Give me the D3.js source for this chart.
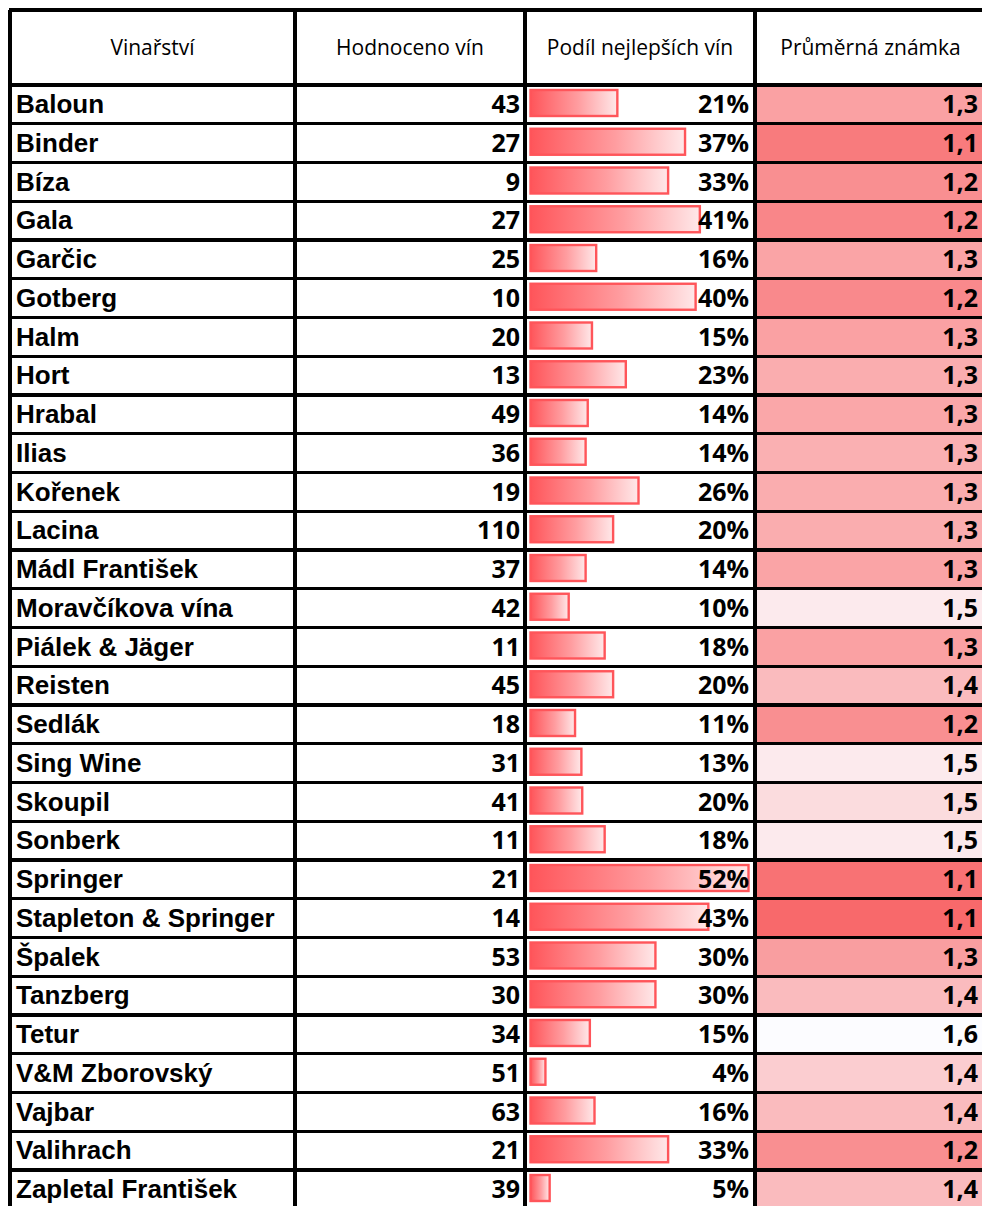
<!DOCTYPE html>
<meta charset="utf-8">
<style>
body {
  margin: 0;
  background: #fff;
}
.head {
  font-family: "Open Sans";
  font-size: 21px;
  fill: #000;
}
.name {
  font-family: "Liberation Sans", Arial;
  font-weight: bold;
  font-size: 26px;
  fill: #000;
}
.num {
  font-family: "Open Sans";
  font-weight: bold;
  font-size: 25px;
  fill: #000;
  text-anchor: end;
}
.grid {
  stroke: #000;
  stroke-width: 3.4;
  shape-rendering: crispEdges;
}
</style>
<body>
<script src="https://cdn.jsdelivr.net/npm/d3@7"></script>
<script>

var headers = ["Vinařství", "Hodnoceno vín", "Podíl nejlepších vín", "Průměrná známka"];

var wineries = ["Baloun", "Binder", "Bíza", "Gala", "Garčic", "Gotberg", "Halm", "Hort",
  "Hrabal", "Ilias", "Kořenek", "Lacina", "Mádl František", "Moravčíkova vína",
  "Piálek & Jäger", "Reisten", "Sedlák", "Sing Wine", "Skoupil", "Sonberk", "Springer",
  "Stapleton & Springer", "Špalek", "Tanzberg", "Tetur", "V&M Zborovský", "Vajbar",
  "Valihrach", "Zapletal František"];

var rated = [43, 27, 9, 27, 25, 10, 20, 13, 49, 36, 19, 110, 37, 42, 11, 45, 18, 31, 41, 11,
  21, 14, 53, 30, 34, 51, 63, 21, 39];

// share of best wines, as printed
var shareShown = [21, 37, 33, 41, 16, 40, 15, 23, 14, 14, 26, 20, 14, 10, 18, 20, 11, 13, 20, 18,
  52, 43, 30, 30, 15, 4, 16, 33, 5];

// share of best wines, as drawn by the bars
var shareBar = [21, 37, 33, 40.5, 16, 39.5, 15, 23, 14, 13.5, 26, 20, 13.5, 9.5, 18, 20, 11, 12.5, 12.7, 18,
  52, 42.5, 30, 30, 14.5, 4, 15.6, 33, 5];

// average grade (estimated from cell shading, printed with one decimal)
var grade = [1.27, 1.14, 1.21, 1.18, 1.28, 1.19, 1.27, 1.31, 1.29, 1.32, 1.31, 1.31, 1.28, 1.52,
  1.27, 1.36, 1.21, 1.52, 1.47, 1.52, 1.11, 1.08, 1.26, 1.36, 1.58, 1.42, 1.36, 1.21, 1.36];

var width = 982,
    height = 1206;

var colX = [10, 295, 525, 755, 990];
var headTop = 10,
    headBottom = 85,
    rowH = 38.75;

var svg = d3.select("body").append("svg")
    .attr("width", width)
    .attr("height", height);

var defs = svg.append("defs");
var grad = defs.append("linearGradient")
    .attr("id", "barGrad");
grad.append("stop").attr("offset", "0%").attr("stop-color", "#FF555A");
grad.append("stop").attr("offset", "55%").attr("stop-color", "#FF9DA0");
grad.append("stop").attr("offset", "100%").attr("stop-color", "#FFE8E9");

var y = d3.scaleBand()
    .domain(d3.range(wineries.length))
    .range([headBottom, headBottom + wineries.length * rowH])
    .padding(0);

var xBar = d3.scaleLinear()
    .domain([0, 52])
    .range([0, 220]);

var color = d3.scaleLinear()
    .domain([d3.min(grade), d3.max(grade)])
    .range(["#F8696B", "#FCFCFF"]);

var fmtGrade = function(v) { return d3.format(".1f")(v).replace(".", ","); };

var rows = svg.selectAll(".row")
    .data(wineries)
  .enter().append("g")
    .attr("class", "row")
    .attr("transform", function(d, i) { return "translate(0," + y(i) + ")"; });

// colour scale cells
rows.append("rect")
    .attr("x", colX[3])
    .attr("y", 0)
    .attr("width", colX[4] - colX[3])
    .attr("height", y.bandwidth())
    .attr("fill", function(d, i) { return color(grade[i]); });

// data bars
rows.append("rect")
    .attr("x", colX[2] + 5.5)
    .attr("y", 5)
    .attr("width", function(d, i) { return Math.max(1, xBar(shareBar[i]) - 2); })
    .attr("height", 26)
    .attr("fill", "url(#barGrad)")
    .attr("stroke", "#FF555A")
    .attr("stroke-width", 2.4);

rows.append("text")
    .attr("class", "name")
    .attr("x", colX[0] + 6)
    .attr("y", 28)
    .text(function(d) { return d; });

rows.append("text")
    .attr("class", "num")
    .attr("x", colX[2] - 5)
    .attr("y", 28)
    .text(function(d, i) { return rated[i]; });

rows.append("text")
    .attr("class", "num")
    .attr("x", colX[3] - 6)
    .attr("y", 28)
    .text(function(d, i) { return shareShown[i] + "%"; });

rows.append("text")
    .attr("class", "num")
    .attr("x", 978)
    .attr("y", 28)
    .text(function(d, i) { return fmtGrade(grade[i]); });

// header
svg.selectAll(".head")
    .data(headers)
  .enter().append("text")
    .attr("class", "head")
    .attr("x", function(d, i) { return (colX[i] + colX[i + 1]) / 2 + (i === 3 ? -2 : 0); })
    .attr("y", 55)
    .attr("text-anchor", "middle")
    .text(function(d) { return d; });

// grid lines
var hLines = [headTop, headBottom].concat(d3.range(1, wineries.length + 1).map(function(i) { return headBottom + i * rowH; }));

svg.selectAll(".hline")
    .data(hLines)
  .enter().append("line")
    .attr("class", "grid")
    .attr("x1", colX[0] - 1.5)
    .attr("x2", colX[4])
    .attr("y1", function(d) { return d; })
    .attr("y2", function(d) { return d; });

svg.selectAll(".vline")
    .data(colX)
  .enter().append("line")
    .attr("class", "grid")
    .attr("x1", function(d) { return d; })
    .attr("x2", function(d) { return d; })
    .attr("y1", headTop)
    .attr("y2", height);

</script>
</body>
